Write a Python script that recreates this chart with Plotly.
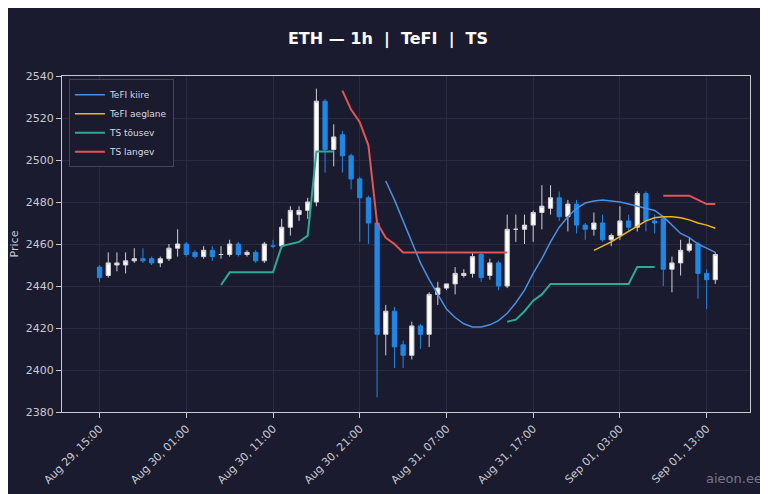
import pandas as pd
import plotly.graph_objects as go

times = pd.date_range('2024-08-29 15:00', periods=72, freq='h')

opens = [2449, 2445, 2450, 2450, 2452, 2453, 2453, 2451, 2453, 2458,
         2460, 2456, 2454, 2457, 2455, 2455, 2460, 2455, 2456, 2452,
         2459, 2459, 2468, 2474, 2476, 2480, 2528, 2505, 2512, 2502,
         2491, 2482, 2470, 2417, 2428, 2412, 2407, 2421, 2417, 2436,
         2439, 2441, 2445, 2446, 2455, 2445, 2451, 2440, 2467, 2467,
         2469, 2475, 2477, 2482, 2473, 2479, 2469, 2467, 2470, 2462,
         2464, 2471, 2468, 2484, 2471, 2472, 2448, 2451, 2457, 2460,
         2446, 2443]
closes = [2444, 2451, 2451, 2452, 2453, 2452, 2451, 2453, 2458, 2460,
          2455, 2454, 2457, 2454, 2455, 2460, 2455, 2456, 2452, 2460,
          2459, 2468, 2476, 2476, 2480, 2528, 2505, 2511, 2502, 2491,
          2482, 2470, 2417, 2428, 2411, 2407, 2421, 2417, 2436, 2439,
          2441, 2446, 2446, 2454, 2444, 2451, 2440, 2467, 2467, 2469,
          2475, 2478, 2482, 2473, 2479, 2469, 2467, 2470, 2462, 2464,
          2471, 2468, 2484, 2471, 2470, 2448, 2451, 2457, 2460, 2446,
          2443, 2455]
highs = [2450, 2456, 2456, 2456, 2458, 2458, 2454, 2454, 2460, 2467,
         2461, 2457, 2459, 2459, 2459, 2462, 2461, 2457, 2457, 2461,
         2462, 2472, 2478, 2478, 2482, 2534, 2529, 2517, 2514, 2503,
         2492, 2483, 2471, 2431, 2430, 2414, 2423, 2422, 2437, 2442,
         2441, 2449, 2448, 2456, 2456, 2453, 2452, 2474, 2474, 2474,
         2476, 2488, 2488, 2485, 2481, 2481, 2470, 2475, 2474, 2465,
         2478, 2474, 2485, 2485, 2474, 2473, 2454, 2462, 2463, 2461,
         2448, 2456]
lows = [2442, 2444, 2447, 2446, 2451, 2451, 2450, 2449, 2452, 2454,
        2454, 2453, 2453, 2452, 2453, 2454, 2454, 2454, 2451, 2451,
        2458, 2458, 2464, 2471, 2472, 2478, 2494, 2497, 2494, 2486,
        2461, 2460, 2387, 2407, 2401, 2401, 2405, 2410, 2411, 2431,
        2438, 2436, 2444, 2444, 2442, 2443, 2438, 2439, 2461, 2460,
        2461, 2467, 2474, 2471, 2466, 2465, 2462, 2464, 2461, 2459,
        2462, 2466, 2466, 2466, 2465, 2440, 2437, 2445, 2456, 2434,
        2429, 2441]

N = None
tefi_kiire = [N] * 33 + [2490, 2481, 2471, 2461, 2451, 2443, 2436, 2429, 2425, 2422,
                         2420.5, 2420.5, 2421.5, 2423.5, 2427, 2432, 2438, 2446, 2453, 2461,
                         2468, 2473, 2477, 2479.5, 2480.5, 2481, 2480.5, 2480, 2479, 2478,
                         2477, 2476, 2473, 2469, 2465, 2463, 2460, 2458, 2456]
tefi_aeglane = [N] * 57 + [2457, 2459, 2461, 2463.5, 2466, 2468.5, 2471, 2472.5, 2473,
                           2473, 2472.5, 2471.5, 2470, 2469, 2467.5]
ts_tousev = ([N] * 14 + [2440.5, 2446.5, 2446.5, 2446.5, 2446.5, 2446.5, 2446.5,
                         2459, 2460, 2461, 2464, 2504, 2504, 2504]
             + [N] * 19 + [2423, 2424, 2428, 2433, 2436, 2441, 2441, 2441, 2441, 2441,
                           2441, 2441, 2441, 2441, 2441, 2449, 2449, 2449] + [N] * 7)
ts_langev = ([N] * 28 + [2533, 2524, 2518, 2507, 2470, 2463, 2460, 2456, 2456, 2456,
                         2456, 2456, 2456, 2456, 2456, 2456, 2456, 2456, 2456, 2456]
             + [N] * 17 + [2483, 2483, 2483, 2483, 2481, 2479, 2479])

BG = '#1b1b2f'

fig = go.Figure()
fig.add_trace(go.Candlestick(
    x=times, open=opens, high=highs, low=lows, close=closes,
    increasing=dict(line=dict(color='#d0d0d8', width=1), fillcolor='#ffffff'),
    decreasing=dict(line=dict(color='#1e88e5', width=1), fillcolor='#1e88e5'),
    whiskerwidth=0, showlegend=False, hoverinfo='skip'))

for name, vals, color in [('TeFI kiire', tefi_kiire, '#4a90e2'),
                          ('TeFI aeglane', tefi_aeglane, '#f0b90b'),
                          ('TS tõusev', ts_tousev, '#2bab8f'),
                          ('TS langev', ts_langev, '#e05555')]:
    fig.add_trace(go.Scatter(x=times, y=vals, name=name, mode='lines',
                             line=dict(color=color, width=2 if name.startswith('TS') else 1.5)))

tickvals = pd.date_range('2024-08-29 15:00', periods=8, freq='10h')
fig.update_layout(
    width=760, height=486,
    paper_bgcolor=BG, plot_bgcolor=BG,
    font=dict(family='DejaVu Sans', color='#c8c8d0', size=11),
    title=dict(text='<b>ETH — 1h  |  TeFI  |  TS</b>', x=0.5, y=0.95,
               font=dict(size=16, color='#ffffff')),
    margin=dict(l=54, r=18, t=68, b=82),
    showlegend=True,
    legend=dict(x=0.01, y=0.99, bgcolor=BG, bordercolor='#44445a', borderwidth=1,
                font=dict(size=9, color='#d8d8e0')),
    annotations=[dict(text='aieon.ee', x=1, y=0, xref='paper', yref='paper',
                      xanchor='right', yanchor='bottom', xshift=14, yshift=-76,
                      showarrow=False, font=dict(size=13, color='#77778a'))],
)
fig.update_xaxes(
    range=[pd.Timestamp('2024-08-29 10:40'), pd.Timestamp('2024-09-01 18:00')],
    rangeslider=dict(visible=False), automargin=False,
    tickvals=tickvals, ticktext=[t.strftime('%b %d, %H:%M') for t in tickvals],
    tickangle=-45, gridcolor='#2a2a40', showline=True, linecolor='#c8c8d0',
    mirror=True, ticks='outside', tickcolor='#c8c8d0', zeroline=False)
fig.update_yaxes(
    range=[2380, 2540], dtick=20, title_text='Price', title_font=dict(size=11),
    title_standoff=8, automargin=False,
    gridcolor='#2a2a40', showline=True, linecolor='#c8c8d0', mirror=True,
    ticks='outside', tickcolor='#c8c8d0', zeroline=False)

fig.write_html('out.html')
